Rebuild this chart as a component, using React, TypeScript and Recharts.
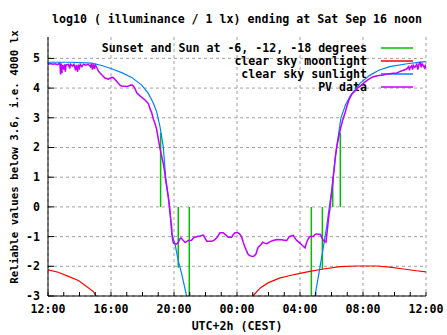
import { CartesianGrid, Line, LineChart, XAxis, YAxis } from "recharts";

// hours counted from Fri 12:00 (CEST) to Sat 12:00
const hourTicks = Array.from({ length: 25 }, (_, i) => i);
const labelHours = [0, 4, 8, 12, 16, 20, 24];
const hourLabels = ["12:00", "16:00", "20:00", "00:00", "04:00", "08:00", "12:00"];
const yTicks = [-3, -2, -1, 0, 1, 2, 3, 4, 5];

// sunset / sun at -6, -12, -18 degrees: vertical markers from 0 to the given value
const sunHours = [7.15, 8.27, 8.97, 16.72, 17.42, 18.08, 18.56];
const sunTops = [2.5, -2.05, -3, -3, -2.1, 1.0, 2.5];

// clear sky moonlight (null = gap)
const moonHours = [0, 0.65, 1.29, 1.93, 2.45, 2.88, 3.05, 3.06, 13.0, 13.5, 14.0, 14.7, 15.37, 16.0, 16.63, 17.48, 18.54, 19.6, 20.87, 21.71, 22.56, 23.4, 24];
const moonValues = [-2.12, -2.2, -2.34, -2.48, -2.68, -2.85, -3.0, null, -3.0, -2.72, -2.55, -2.4, -2.31, -2.24, -2.17, -2.09, -2.01, -1.99, -1.99, -2.03, -2.09, -2.15, -2.19];

// clear sky sunlight
const sunlightHours = [0, 1.5, 2.77, 3.41, 4.04, 4.68, 5.31, 5.95, 6.37, 6.69, 6.9, 7.11, 7.32, 7.47, 7.64, 7.75, 7.85, 8.06, 8.27, 8.49, 8.8, 8.81, 16.95, 17.27, 17.48, 17.69, 17.86, 18.05, 18.22, 18.39, 18.6, 18.9, 19.2, 19.5, 19.8, 20.4, 21.0, 21.7, 22.8, 23.8, 24];
const sunlightValues = [4.87, 4.87, 4.84, 4.76, 4.65, 4.52, 4.36, 4.1, 3.82, 3.49, 3.2, 2.7, 2.02, 1.0, 0.33, -0.12, -0.9, -1.24, -1.81, -2.26, -3.0, null, -3.0, -2.03, -1.36, -0.68, 0.0, 0.67, 1.57, 2.25, 3.0, 3.45, 3.75, 3.95, 4.16, 4.42, 4.6, 4.72, 4.82, 4.88, 4.89];

// PV data
const pvHours = [
  0, 0.15, 0.3, 0.45, 0.6, 0.75, 0.8, 0.84, 0.88, 0.92, 1.0, 1.05, 1.1, 1.15, 1.3, 1.38, 1.43, 1.55, 1.65, 1.75, 1.8, 1.88, 1.93, 2.0, 2.05, 2.15, 2.25, 2.4, 2.55, 2.7, 2.75, 2.82, 2.87, 2.95, 3.0, 3.09,
  3.2, 3.41, 3.62, 3.83, 3.94, 4.04, 4.15, 4.25, 4.46, 4.57, 4.68, 5.0, 5.27, 5.35, 5.45, 5.55, 5.63, 5.84, 6.16, 6.37, 6.48, 6.58, 6.69, 6.8, 6.9, 7.0, 7.11, 7.22, 7.32, 7.4, 7.47, 7.56, 7.64, 7.7, 7.75, 7.8, 7.85, 7.89, 7.95,
  8.02, 8.17, 8.27, 8.38, 8.44, 8.59, 8.7, 8.74, 8.9, 9.12, 9.23, 9.33, 9.54, 9.65, 9.86, 9.97, 10.08, 10.39, 10.55, 10.71, 10.82, 10.92, 11.13, 11.3, 11.45, 11.66, 11.77, 11.87, 12.05, 12.15, 12.3, 12.4, 12.51, 12.62, 12.72, 12.85,
  13.0, 13.1, 13.21, 13.28, 13.35, 13.5, 13.63, 13.76, 13.89, 14.0, 14.14, 14.3, 14.52, 14.84, 15.0, 15.16, 15.3, 15.37, 15.57, 15.68, 15.79, 16.0, 16.15, 16.32, 16.42, 16.53, 16.63, 16.84, 16.95, 17.05, 17.2, 17.31, 17.4, 17.48, 17.65,
  17.7, 17.75, 17.82, 17.9, 18.0, 18.1, 18.18, 18.25, 18.33, 18.42, 18.5, 18.6, 18.71, 18.85, 18.97, 19.07, 19.17, 19.3, 19.49, 19.65, 19.81, 20.0, 20.23, 20.45, 20.65, 21.0, 21.29, 21.5, 21.71, 21.9, 22.14, 22.35, 22.56, 22.77,
  22.9, 22.95, 23.0, 23.09, 23.15, 23.2, 23.3, 23.41, 23.48, 23.55, 23.62, 23.7, 23.75, 23.83, 23.9, 23.95, 24,
];
const pvValues = [
  4.8, 4.83, 4.8, 4.82, 4.79, 4.84, 4.46, 4.83, 4.5, 4.78, 4.62, 4.8, 4.55, 4.78, 4.8, 4.66, 4.8, 4.74, 4.8, 4.6, 4.78, 4.55, 4.79, 4.68, 4.8, 4.72, 4.8, 4.77, 4.8, 4.72, 4.82, 4.62, 4.8, 4.65, 4.78, 4.7,
  4.57, 4.45, 4.34, 4.3, 4.33, 4.36, 4.35, 4.3, 4.16, 4.1, 4.07, 4.05, 4.1, 4.1, 4.05, 3.95, 3.84, 3.74, 3.6, 3.48, 3.3, 3.18, 2.95, 2.8, 2.6, 2.3, 1.97, 1.7, 1.46, 1.2, 0.9, 0.6, 0.33, 0.05, -0.23, -0.45, -0.68, -1.02, -1.2,
  -1.24, -1.25, -1.19, -1.07, -1.04, -1.13, -1.19, -1.19, -1.13, -1.12, -1.04, -1.02, -0.99, -0.98, -0.95, -1.05, -1.16, -1.16, -1.12, -1.05, -0.95, -0.87, -0.87, -0.95, -1.02, -1.02, -0.93, -0.87, -0.87, -0.9, -1.02, -1.2, -1.36, -1.5, -1.61, -1.65,
  -1.67, -1.65, -1.58, -1.45, -1.36, -1.28, -1.19, -1.22, -1.24, -1.2, -1.16, -1.13, -1.1, -1.11, -1.12, -1.13, -1.02, -0.99, -0.96, -1.05, -1.13, -1.22, -1.3, -1.38, -1.2, -1.07, -1.0, -1.0, -0.93, -0.91, -0.92, -0.93, -1.05, -1.13, -1.19,
  -0.95, -0.7, -0.35, -0.05, 0.45, 0.95, 1.34, 1.7, 2.02, 2.25, 2.47, 2.7, 2.92, 3.15, 3.37, 3.55, 3.68, 3.8, 3.9, 4.0, 4.06, 4.15, 4.25, 4.33, 4.38, 4.42, 4.44, 4.47, 4.48, 4.5, 4.5, 4.56, 4.6, 4.64,
  4.72, 4.6, 4.7, 4.75, 4.62, 4.76, 4.7, 4.8, 4.62, 4.8, 4.86, 4.7, 4.82, 4.76, 4.68, 4.75, 4.67,
];

const legendLabels = ["Sunset and Sun at -6, -12, -18 degrees", "clear sky moonlight", "clear sky sunlight", "PV data"];
const colors = ["#00c000", "#ff0000", "#0080ff", "#c000ff"];

const sunData = sunHours.flatMap((h, i) => [
  { h, v: 0 },
  { h, v: sunTops[i] },
  { h, v: null },
]);
const moonData = moonHours.map((h, i) => ({ h, v: moonValues[i] }));
const sunlightData = sunlightHours.map((h, i) => ({ h, v: sunlightValues[i] }));
const pvData = pvHours.map((h, i) => ({ h, v: pvValues[i] }));

const font = '"DejaVu Sans Mono", monospace';
const textStyle = { fontFamily: font, fontWeight: 700, fontSize: 11.6, fill: "#000" };

function BottomTick(props: any) {
  const { x, y, payload } = props;
  const idx = labelHours.indexOf(payload.value);
  return (
    <g>
      <line x1={x} x2={x} y1={y} y2={y - 4} stroke="#000" />
      {idx >= 0 && (
        <text x={x} y={y + 17} textAnchor="middle" style={textStyle}>
          {hourLabels[idx]}
        </text>
      )}
    </g>
  );
}

function TopTick(props: any) {
  const { x, y } = props;
  return <line x1={x} x2={x} y1={y} y2={y + 4} stroke="#000" />;
}

function LeftTick(props: any) {
  const { x, y, payload } = props;
  return (
    <g>
      <line x1={x} x2={x + 6} y1={y} y2={y} stroke="#000" />
      <text x={x - 8} y={y + 4} textAnchor="end" style={textStyle}>
        {payload.value}
      </text>
    </g>
  );
}

function RightTick(props: any) {
  const { x, y } = props;
  return <line x1={x} x2={x - 6} y1={y} y2={y} stroke="#000" />;
}

export default function App() {
  return (
    <div style={{ position: "absolute", left: 0, top: 0, width: 447, height: 335, background: "#fff" }}>
      <LineChart width={447} height={335} margin={{ top: 37, right: 21, bottom: 0, left: 0 }}>
        <CartesianGrid stroke="#a0a0a0" strokeDasharray="3 3" verticalValues={labelHours} horizontalValues={yTicks} />
        <XAxis
          dataKey="h"
          type="number"
          domain={[0, 24]}
          allowDataOverflow
          ticks={hourTicks}
          interval={0}
          height={39}
          tickSize={0}
          tickMargin={0}
          tickLine={false}
          axisLine={{ stroke: "#000" }}
          tick={<BottomTick />}
        />
        <XAxis
          xAxisId="top"
          orientation="top"
          dataKey="h"
          type="number"
          domain={[0, 24]}
          allowDataOverflow
          ticks={hourTicks}
          interval={0}
          height={0}
          tickSize={0}
          tickMargin={0}
          tickLine={false}
          axisLine={{ stroke: "#000" }}
          tick={<TopTick />}
        />
        <YAxis
          type="number"
          domain={[-3, 5.72]}
          allowDataOverflow
          ticks={yTicks}
          interval={0}
          width={48}
          tickSize={0}
          tickMargin={0}
          tickLine={false}
          axisLine={{ stroke: "#000" }}
          tick={<LeftTick />}
        />
        <YAxis
          yAxisId="right"
          orientation="right"
          type="number"
          domain={[-3, 5.72]}
          allowDataOverflow
          ticks={yTicks}
          interval={0}
          width={0}
          tickSize={0}
          tickMargin={0}
          tickLine={false}
          axisLine={{ stroke: "#000" }}
          tick={<RightTick />}
        />
        <Line data={sunData} dataKey="v" type="linear" stroke={colors[0]} strokeWidth={1.5} dot={false} activeDot={false} isAnimationActive={false} />
        <Line data={moonData} dataKey="v" type="linear" stroke={colors[1]} strokeWidth={1.2} dot={false} activeDot={false} isAnimationActive={false} />
        <Line data={sunlightData} dataKey="v" type="linear" stroke={colors[2]} strokeWidth={1.2} dot={false} activeDot={false} isAnimationActive={false} />
        <Line data={pvData} dataKey="v" type="linear" stroke={colors[3]} strokeWidth={1.5} dot={false} activeDot={false} isAnimationActive={false} />

        <text x={237} y={23} textAnchor="middle" style={textStyle}>
          log10 ( illuminance / 1 lx) ending at Sat Sep 16 noon
        </text>
        <text x={237} y={330} textAnchor="middle" style={textStyle}>
          UTC+2h (CEST)
        </text>
        <text
          x={18}
          y={157}
          textAnchor="middle"
          transform="rotate(-90 18 157)"
          style={{ ...textStyle, fontSize: 10.8 }}
        >
          Reliable values below 3.6, i.e. 4000 lx
        </text>
        {legendLabels.map((label, i) => (
          <g key={label}>
            <text x={367} y={52 + i * 13} textAnchor="end" style={textStyle}>
              {label}
            </text>
            <line x1={381} x2={413} y1={48 + i * 13} y2={48 + i * 13} stroke={colors[i]} strokeWidth={1.5} />
          </g>
        ))}
      </LineChart>
    </div>
  );
}
